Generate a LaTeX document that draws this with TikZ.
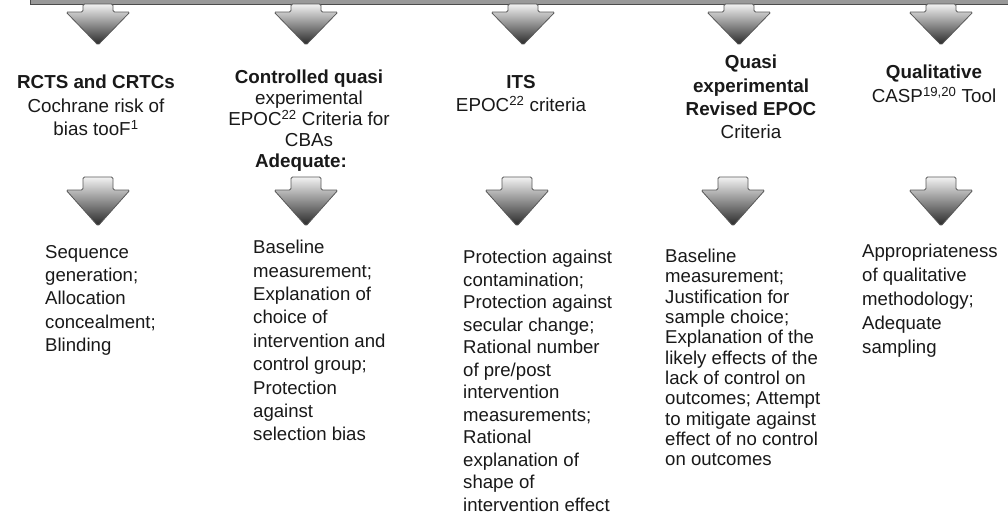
\documentclass[tikz,border=0pt]{standalone}
\usepackage{fontspec}
\setmainfont{Liberation Sans}
\newcommand\blockarrow[4]{%
  \path[arrowshape] ({#1-15},#2) -- ({#1-15},#3) -- ({#1-32},#3) -- (#1,#4) -- ({#1+32},#3) -- ({#1+15},#3) -- ({#1+15},#2) -- cycle;}
\begin{document}
\begin{tikzpicture}[x=1pt,y=-1pt,
  arrowshape/.style={draw=black!65, line width=0.8pt, rounded corners=1.5pt, top color=black!5, bottom color=black!85},
  bar/.style={draw=black!70, fill=black!40, line width=1pt},
  head/.style={anchor=north, align=center, inner sep=0pt, text=black!90, font=\fontsize{18.8}{23.5}\selectfont},
  body/.style={anchor=north west, align=left, inner sep=0pt, text=black!90, font=\fontsize{18.6}{23.3}\selectfont}]
\useasboundingbox (0,0) rectangle (1008,520);
\fill[white] (0,0) rectangle (1008,520);
% top bar
\path[bar] (30,-10) rectangle (1015,4);
% top arrows
\blockarrow{98}{4}{12}{45}
\blockarrow{306}{4}{12}{45}
\blockarrow{523}{4}{12}{45}
\blockarrow{739}{4}{12}{45}
\blockarrow{941}{4}{12}{45}
% lower arrows
\blockarrow{98}{177}{190}{226}
\blockarrow{306}{177}{190}{226}
\blockarrow{517}{177}{190}{226}
\blockarrow{733}{177}{190}{226}
\blockarrow{941}{177}{190}{226}
% headings
\node[head] (h1) at (96,75) {\textbf{RCTS and CRTCs}\\Cochrane risk of\\bias tooF\textsuperscript{1}};
\node[head, font=\fontsize{18.8}{21}\selectfont] (h2) at (309,70) {\textbf{Controlled quasi}\\experimental\\EPOC\textsuperscript{22} Criteria for\\CBAs};
\node[head] (h2b) at (301,154) {\textbf{Adequate:}};
\node[head] (h3) at (521,75) {\textbf{ITS}\\EPOC\textsuperscript{22} criteria};
\node[head, font=\fontsize{18.8}{23.3}\selectfont] (h4) at (751,55) {\textbf{Quasi}\\\textbf{experimental}\\\textbf{Revised EPOC}\\Criteria};
\node[head, font=\fontsize{18.8}{24}\selectfont] (h5) at (934,65) {\textbf{Qualitative}\\CASP\textsuperscript{19,20} Tool};
% bodies
\node[body] (b1) at (45,245) {Sequence\\generation;\\Allocation\\concealment;\\Blinding};
\node[body, font=\fontsize{18.6}{23.4}\selectfont] (b2) at (253,240) {Baseline\\measurement;\\Explanation of\\choice of\\intervention and\\control group;\\Protection\\against\\selection bias};
\node[body, font=\fontsize{18.6}{22.5}\selectfont] (b3) at (463,250) {Protection against\\contamination;\\Protection against\\secular change;\\Rational number\\of pre/post\\intervention\\measurements;\\Rational\\explanation of\\shape of\\intervention effect};
\node[body, font=\fontsize{18.6}{20.3}\selectfont] (b4) at (665,249) {Baseline\\measurement;\\Justification for\\sample choice;\\Explanation of the\\likely effects of the\\lack of control on\\outcomes; Attempt\\to mitigate against\\effect of no control\\on outcomes};
\node[body, font=\fontsize{18.6}{24}\selectfont] (b5) at (862,244) {Appropriateness\\of qualitative\\methodology;\\Adequate\\sampling};
\end{tikzpicture}
\end{document}
